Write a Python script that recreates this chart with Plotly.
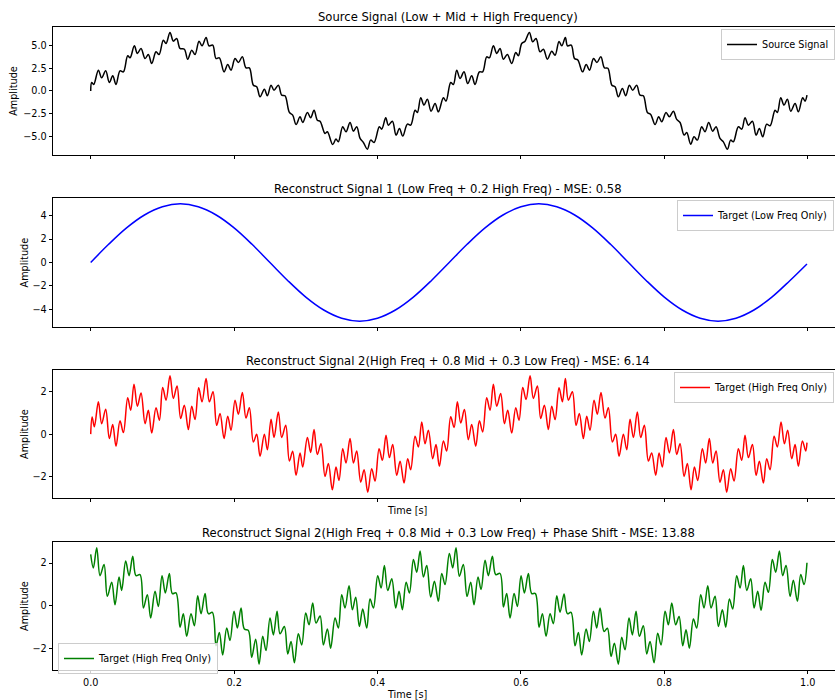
import plotly.graph_objects as go

# ---------------- data ----------------
src_t = [0, 0.0014, 0.0042, 0.0107, 0.0153, 0.0209, 0.026, 0.0307, 0.0353, 0.0409, 0.0456, 0.0516, 0.0549, 0.0609,
         0.0651, 0.0702, 0.0758, 0.0804, 0.0851, 0.0911, 0.0953, 0.1013, 0.1051, 0.1106, 0.1153, 0.1199, 0.1246,
         0.1306, 0.1353, 0.1409, 0.1455, 0.1511, 0.1553, 0.1609, 0.1650, 0.1702, 0.1748, 0.1794, 0.1860, 0.1911,
         0.1957, 0.2013, 0.2060, 0.2115, 0.2166, 0.2213, 0.2269, 0.2315, 0.2362, 0.2422, 0.2464, 0.2515, 0.2557,
         0.2617, 0.2664, 0.2710, 0.2771, 0.2817, 0.2864, 0.2920, 0.2957, 0.3022, 0.3068, 0.3115, 0.3161, 0.3199,
         0.3268, 0.3301, 0.3375, 0.3421, 0.3454, 0.3515, 0.3561, 0.3617, 0.3664, 0.3710, 0.3757, 0.3803, 0.3859,
         0.3905, 0.3952, 0.4026, 0.4059, 0.4115, 0.4152, 0.4208, 0.4259, 0.4306, 0.4352, 0.4417, 0.4463, 0.4524,
         0.4556, 0.4603, 0.4649, 0.4696, 0.4747, 0.4803, 0.4849, 0.4919, 0.4956, 0.5021, 0.5058, 0.5105, 0.5151,
         0.5207, 0.5258, 0.5314, 0.5360, 0.5421, 0.5467, 0.5523, 0.5560, 0.5616, 0.5663, 0.5709, 0.5756, 0.5811,
         0.5872, 0.5928, 0.5965, 0.6011, 0.6058, 0.6118, 0.6165, 0.6211, 0.6267, 0.6314, 0.6369, 0.6430, 0.6477,
         0.6532, 0.6570, 0.6620, 0.6650, 0.6702, 0.6748, 0.6794, 0.6860, 0.6911, 0.6957, 0.7013, 0.7060, 0.7115,
         0.7166, 0.7213, 0.7269, 0.7313, 0.7359, 0.7415, 0.7462, 0.7513, 0.7559, 0.7615, 0.7662, 0.7708, 0.7764,
         0.7810, 0.7871, 0.7922, 0.7964, 0.8024, 0.8071, 0.8127, 0.8173, 0.8220, 0.8276, 0.8313, 0.8368, 0.8415,
         0.8461, 0.8522, 0.8568, 0.8619, 0.8675, 0.8722, 0.8777, 0.8824, 0.8880, 0.8926, 0.8963, 0.9033, 0.9080,
         0.9126, 0.9173, 0.9229, 0.9280, 0.9326, 0.9373, 0.9428, 0.9475, 0.9545, 0.9577, 0.9624, 0.9670, 0.9717,
         0.9763, 0.9824, 0.9870, 0.9930, 0.9963, 0.9990]
src_v = [0, 0.93, 0.71, 2.29, 1.44, 2.21, 0.93, 1.66, 0.71, 2.21, 2.10, 3.87, 3.65, 4.97, 4.13, 4.68, 3.57, 4.01,
         3.02, 4.31, 4.01, 5.60, 5.23, 6.44, 5.49, 5.78, 4.68, 4.60, 3.50, 4.49, 4.01, 5.49, 4.97, 5.89, 4.97, 5.04,
         3.57, 3.65, 2.10, 2.91, 2.29, 3.57, 3.13, 3.76, 2.54, 2.54, 0.63, 0.45, -0.65, 0.19, -0.54, 0.63, 0.08,
         0.63, -0.47, -0.54, -2.38, -2.68, -3.71, -2.86, -3.49, -2.38, -2.97, -2.13, -3.23, -3.35, -4.70, -4.51,
         -5.91, -5.32, -5.62, -3.96, -4.51, -3.49, -4.44, -3.96, -5.25, -5.69, -6.43, -5.43, -5.69, -3.96, -4.22,
         -2.97, -3.78, -3.34, -4.88, -4.15, -4.99, -3.67, -3.78, -2.13, -2.38, -0.76, -1.57, -0.91, -2.24, -1.39,
         -2.31, -0.76, -1.13, 0.93, 0.71, 2.29, 1.37, 2.10, 0.82, 1.66, 0.71, 2.10, 2.10, 3.76, 3.65, 4.97, 4.13,
         4.68, 3.50, 4.01, 3.02, 4.24, 3.87, 5.23, 5.49, 6.44, 5.41, 5.78, 4.31, 4.60, 3.50, 4.38, 3.94, 5.45, 4.97,
         5.89, 4.97, 5.04, 3.57, 3.40, 2.10, 2.91, 2.29, 3.57, 3.13, 3.76, 2.54, 2.50, 0.63, 0.45, -0.65, 0.26,
         -0.54, 0.63, 0.08, 0.63, -0.47, -0.54, -2.38, -2.60, -3.71, -2.86, -3.41, -2.38, -2.86, -2.24, -3.15,
         -3.49, -4.88, -4.59, -5.88, -5.07, -5.43, -3.96, -4.51, -3.49, -4.44, -3.96, -5.25, -5.62, -6.43, -5.43,
         -5.62, -3.96, -4.22, -2.97, -3.78, -3.34, -4.88, -4.15, -5.07, -3.67, -3.85, -2.13, -2.38, -0.76, -1.57,
         -0.91, -2.24, -1.39, -2.31, -0.76, -1.13, -0.47]

low_t = [0, 0.025, 0.05, 0.075, 0.1, 0.125, 0.15, 0.175, 0.2, 0.225, 0.25, 0.275, 0.3, 0.325, 0.35, 0.375, 0.4,
         0.425, 0.45, 0.475, 0.5, 0.525, 0.55, 0.575, 0.6, 0.625, 0.65, 0.675, 0.7, 0.725, 0.75, 0.775, 0.8, 0.825,
         0.85, 0.875, 0.9, 0.925, 0.95, 0.975, 0.999]
low_v = [0, 1.55, 2.95, 4.05, 4.75, 5.0, 4.75, 4.05, 2.95, 1.55, 0, -1.55, -2.95, -4.05, -4.75, -5.0, -4.75, -4.05,
         -2.95, -1.55, 0, 1.55, 2.95, 4.05, 4.75, 5.0, 4.75, 4.05, 2.95, 1.55, 0, -1.55, -2.95, -4.05, -4.75, -5.0,
         -4.75, -4.05, -2.95, -1.55, -0.12]

high_t = [0, 0.0020, 0.0051, 0.0107, 0.0153, 0.0209, 0.026, 0.0307, 0.0353, 0.0409, 0.0456, 0.0516, 0.0558, 0.0604,
          0.0651, 0.0702, 0.0758, 0.0804, 0.0851, 0.0911, 0.0958, 0.1004, 0.1051, 0.1106, 0.1153, 0.1204, 0.1255,
          0.1306, 0.1362, 0.1409, 0.1455, 0.1506, 0.1553, 0.1609, 0.1655, 0.1706, 0.1757, 0.1804, 0.1860, 0.1911,
          0.1957, 0.2013, 0.2060, 0.2115, 0.2166, 0.2213, 0.2269, 0.2315, 0.2362, 0.2422, 0.2464, 0.2515, 0.2557,
          0.2617, 0.2664, 0.2720, 0.2771, 0.2817, 0.2864, 0.2920, 0.2957, 0.3022, 0.3068, 0.3115, 0.3161, 0.3212,
          0.3268, 0.3315, 0.3370, 0.3421, 0.3463, 0.3515, 0.3561, 0.3617, 0.3664, 0.3710, 0.3766, 0.3813, 0.3864,
          0.3919, 0.3966, 0.4022, 0.4068, 0.4119, 0.4166, 0.4212, 0.4268, 0.4315, 0.4370, 0.4421, 0.4463, 0.4524,
          0.4570, 0.4617, 0.4663, 0.4710, 0.4770, 0.4816, 0.4863, 0.4919, 0.4965, 0.5021, 0.5068, 0.5114, 0.5161,
          0.5212, 0.5267, 0.5314, 0.5370, 0.5421, 0.5467, 0.5523, 0.5570, 0.5616, 0.5663, 0.5718, 0.5770, 0.5816,
          0.5872, 0.5928, 0.5974, 0.6026, 0.6072, 0.6128, 0.6174, 0.6230, 0.6276, 0.6328, 0.6383, 0.6430, 0.6477,
          0.6532, 0.6579, 0.6620, 0.6662, 0.6718, 0.6769, 0.6815, 0.6871, 0.6918, 0.6964, 0.7020, 0.7066, 0.7117,
          0.7173, 0.7220, 0.7276, 0.7322, 0.7369, 0.7429, 0.7476, 0.7522, 0.7569, 0.7624, 0.7671, 0.7722, 0.7778,
          0.7824, 0.7880, 0.7927, 0.7973, 0.8024, 0.8071, 0.8127, 0.8173, 0.8220, 0.8276, 0.8322, 0.8373, 0.8420,
          0.8466, 0.8531, 0.8577, 0.8628, 0.8675, 0.8722, 0.8777, 0.8824, 0.8870, 0.8926, 0.8973, 0.9033, 0.9080,
          0.9126, 0.9173, 0.9229, 0.9280, 0.9326, 0.9382, 0.9428, 0.9475, 0.9531, 0.9577, 0.9628, 0.9675, 0.9721,
          0.9777, 0.9824, 0.9870, 0.9926, 0.9972, 0.9990]
high_v = [0, 0.80, 0.34, 1.51, 0.49, 1.17, -0.21, 0.45, -0.57, 0.62, 0.07, 1.70, 1.12, 2.34, 1.31, 1.93, 0.49, 1.12,
          0.05, 1.24, 0.65, 2.18, 1.59, 2.73, 1.67, 2.25, 0.73, 1.35, 0.21, 1.31, 0.68, 2.17, 1.51, 2.61, 1.51, 1.98,
          0.41, 0.96, -0.21, 0.84, 0.18, 1.59, 0.93, 1.95, 0.75, 1.24, -0.37, -0.01, -1.04, -0.01, -0.73, 0.70,
          -0.16, 1.04, -0.16, 0.41, -1.26, -0.80, -1.93, -0.88, -1.54, -0.16, -0.86, 0.21, -0.95, -0.45, -1.98,
          -1.38, -2.61, -1.54, -2.17, -0.68, -1.35, -0.21, -1.35, -0.79, -2.25, -1.67, -2.72, -1.62, -2.20, -0.68,
          -1.23, -0.05, -1.10, -0.49, -1.93, -1.27, -2.29, -1.15, -1.67, -0.10, -0.60, 0.57, -0.45, 0.18, -1.15,
          -0.49, -1.51, -0.32, -0.79, 0.81, 0.31, 1.51, 0.52, 1.15, -0.26, 0.45, -0.57, 0.62, 0.10, 1.70, 1.12, 2.34,
          1.31, 1.90, 0.49, 1.12, 0.05, 1.24, 0.65, 2.18, 1.62, 2.73, 1.67, 2.25, 0.73, 1.35, 0.21, 1.31, 0.68, 2.17,
          1.51, 2.61, 1.59, 1.98, 0.41, 0.96, -0.21, 0.84, 0.18, 1.59, 0.93, 1.95, 0.75, 1.24, -0.37, -0.01, -1.04,
          -0.01, -0.73, 0.70, -0.16, 1.04, -0.16, 0.41, -1.26, -0.88, -1.93, -0.88, -1.54, -0.16, -0.88, 0.21,
          -0.95, -0.45, -1.98, -1.38, -2.61, -1.54, -2.17, -0.68, -1.35, -0.21, -1.35, -0.79, -2.25, -1.67, -2.72,
          -1.62, -2.20, -0.68, -1.23, -0.05, -1.10, -0.49, -1.93, -1.27, -2.29, -1.15, -1.67, -0.10, -0.60, 0.57,
          -0.45, 0.18, -1.15, -0.49, -1.51, -0.32, -0.79, -0.40]

shift_t = [0, 0.0037, 0.0084, 0.0130, 0.0186, 0.0232, 0.0293, 0.0339, 0.0395, 0.0432, 0.0488, 0.0535, 0.0586, 0.0632,
           0.0688, 0.0735, 0.0790, 0.0837, 0.0897, 0.0944, 0.0995, 0.1041, 0.1097, 0.1139, 0.1190, 0.1246, 0.1292,
           0.1339, 0.1399, 0.1446, 0.1492, 0.1539, 0.1595, 0.1641, 0.1697, 0.1748, 0.1794, 0.1841, 0.1897, 0.1943,
           0.1999, 0.2046, 0.2097, 0.2143, 0.2199, 0.2245, 0.2301, 0.2348, 0.2399, 0.2445, 0.2501, 0.2548, 0.2599,
           0.2641, 0.2701, 0.2748, 0.2794, 0.2841, 0.2896, 0.2943, 0.2999, 0.3045, 0.3096, 0.3143, 0.3199, 0.3245,
           0.3301, 0.3347, 0.3408, 0.3454, 0.3501, 0.3547, 0.3603, 0.3650, 0.3696, 0.3747, 0.3794, 0.3850, 0.3896,
           0.3943, 0.4003, 0.4050, 0.4096, 0.4143, 0.4199, 0.4254, 0.4301, 0.4347, 0.4399, 0.4445, 0.4501, 0.4547,
           0.4594, 0.4640, 0.4687, 0.4742, 0.4794, 0.4849, 0.4896, 0.4942, 0.5002, 0.5049, 0.5095, 0.5142, 0.5197,
           0.5249, 0.5300, 0.5346, 0.5402, 0.5444, 0.5500, 0.5546, 0.5602, 0.5649, 0.5709, 0.5756, 0.5802, 0.5849,
           0.5905, 0.5951, 0.6002, 0.6049, 0.6104, 0.6151, 0.6202, 0.6253, 0.6300, 0.6351, 0.6407, 0.6453, 0.6500,
           0.6546, 0.6602, 0.6648, 0.6699, 0.6755, 0.6802, 0.6848, 0.6909, 0.6955, 0.7011, 0.7057, 0.7104, 0.7160,
           0.7206, 0.7257, 0.7304, 0.7359, 0.7406, 0.7452, 0.7508, 0.7555, 0.7606, 0.7652, 0.7708, 0.7755, 0.7801,
           0.7857, 0.7908, 0.7955, 0.8011, 0.8057, 0.8104, 0.8159, 0.8206, 0.8257, 0.8303, 0.8350, 0.8406, 0.8452,
           0.8508, 0.8554, 0.8606, 0.8652, 0.8708, 0.8754, 0.8810, 0.8857, 0.8908, 0.8954, 0.9010, 0.9057, 0.9103,
           0.9150, 0.9205, 0.9252, 0.9303, 0.9350, 0.9405, 0.9452, 0.9507, 0.9554, 0.9605, 0.9651, 0.9698, 0.9754,
           0.9800, 0.9856, 0.9903, 0.9949, 0.9990]
shift_v = [2.40, 1.77, 2.71, 1.41, 1.93, 0.44, 1.10, 0.05, 1.35, 0.72, 2.09, 1.41, 2.32, 1.41, 1.46, -0.10, 0.52,
           -0.57, 0.68, -0.03, 1.41, 0.60, 1.51, 0.57, 0.60, -1.00, -0.37, -1.43, -0.37, -0.93, 0.47, -0.37, 0.57,
           -0.37, -0.31, -1.87, -1.25, -2.30, -1.04, -1.62, -0.26, -1.04, -0.10, -1.09, -1.15, -2.41, -1.56, -2.73,
           -1.43, -2.09, -0.57, -1.36, -0.26, -1.31, -0.97, -2.25, -1.67, -2.66, -1.31, -1.83, -0.34, -0.89, 0.13,
           -0.81, -0.48, -1.83, -1.09, -1.98, -0.57, -1.04, 0.52, -0.10, 0.94, -0.18, 0.40, -0.97, -0.15, -1.04,
           0.32, -0.10, 1.41, 0.83, 1.88, 0.71, 1.26, -0.10, 0.68, -0.18, 1.10, 0.60, 2.16, 1.57, 2.56, 1.35, 1.88,
           0.41, 1.15, 0.21, 1.51, 0.99, 2.45, 1.77, 2.71, 1.38, 1.93, 0.44, 1.10, 0.05, 1.35, 0.76, 2.13, 1.41,
           2.32, 1.46, 1.51, -0.06, 0.57, -0.57, 0.57, -0.03, 1.41, 0.60, 1.51, 0.57, 0.57, -1.00, -0.37, -1.43,
           -0.37, -0.84, 0.47, -0.30, 0.55, -0.37, -0.31, -1.87, -1.25, -2.30, -1.09, -1.67, -0.26, -1.04, -0.10,
           -1.20, -1.05, -2.37, -1.75, -2.73, -1.47, -2.06, -0.57, -1.36, -0.26, -1.43, -0.93, -2.25, -1.67, -2.66,
           -1.28, -1.83, -0.26, -0.89, 0.13, -0.89, -0.50, -1.87, -1.12, -1.98, -0.62, -1.04, 0.52, -0.10, 0.94,
           -0.10, 0.44, -0.97, -0.18, -1.00, 0.32, -0.15, 1.41, 0.83, 1.88, 0.72, 1.26, -0.10, 0.68, -0.21, 1.10,
           0.63, 2.16, 1.57, 2.56, 1.41, 1.88, 0.44, 1.19, 0.21, 1.46, 0.99, 2.01]

titles = ["Source Signal (Low + Mid + High Frequency)",
          "Reconstruct Signal 1 (Low Freq + 0.2 High Freq) - MSE: 0.58",
          "Reconstruct Signal 2(High Freq + 0.8 Mid + 0.3 Low Freq) - MSE: 6.14",
          "Reconstruct Signal 2(High Freq + 0.8 Mid + 0.3 Low Freq) + Phase Shift - MSE: 13.88"]
legend_names = ["Source Signal", "Target (Low Freq Only)", "Target (High Freq Only)", "Target (High Freq Only)"]
x_ticks = [0.0, 0.2, 0.4, 0.6, 0.8, 1.0]
x_tick_labels = ["0.0", "0.2", "0.4", "0.6", "0.8", "1.0"]
y_ticks = [[-5.0, -2.5, 0.0, 2.5, 5.0], [-4, -2, 0, 2, 4], [-2, 0, 2], [-2, 0, 2]]
y_tick_labels = [["\u22125.0", "\u22122.5", "0.0", "2.5", "5.0"], ["\u22124", "\u22122", "0", "2", "4"],
                 ["\u22122", "0", "2"], ["\u22122", "0", "2"]]

# ---------------- layout ----------------
W, H = 835, 700
ML = 53.0
PW = W - ML
FONT = "DejaVu Sans"
series = [(src_t, src_v, "black"), (low_t, low_v, "blue"), (high_t, high_v, "red"), (shift_t, shift_v, "green")]
# pixel boxes (top, bottom) of the four axes
boxes = [(26.7, 155.0), (198.0, 327.0), (370.0, 498.0), (542.0, 670.0)]
x_px0, x_px1 = 90.7, 807.7  # pixel positions of t=0 and t=1
x_range = [(ML - x_px0) / (x_px1 - x_px0), (W - x_px0) / (x_px1 - x_px0)]


def xp(px):
    return (px - ML) / PW


def yp(py):
    return 1 - py / H


fig = go.Figure()
legend_keys = ["legend", "legend2", "legend3", "legend4"]
for i, (t, v, col) in enumerate(series):
    n = "" if i == 0 else str(i + 1)
    fig.add_trace(go.Scatter(x=t, y=v, mode="lines", name=legend_names[i],
                             line=dict(color=col, width=1.5, shape="spline", smoothing=1.0),
                             xaxis="x" + n, yaxis="y" + n, legend=legend_keys[i], showlegend=True))

layout = dict(width=W, height=H, autosize=False, margin=dict(l=ML, r=0, t=0, b=0, autoexpand=False),
              paper_bgcolor="white", plot_bgcolor="white", font=dict(family=FONT, size=9.7, color="black"),
              annotations=[])
for i in range(4):
    n = "" if i == 0 else str(i + 1)
    top, bot = boxes[i]
    lo, hi = min(series[i][1]), max(series[i][1])
    pad = 0.05 * (hi - lo)
    layout["xaxis" + n] = dict(domain=[0, 1], range=x_range, anchor="y" + n, showline=True, mirror=True,
                               linecolor="black", linewidth=0.8, ticks="outside", ticklen=3.5, tickwidth=0.8,
                               tickcolor="black", tickvals=x_ticks,
                               ticktext=x_tick_labels if i == 3 else [""] * len(x_ticks),
                               showgrid=False, zeroline=False, automargin=False,
                               tickfont=dict(family=FONT, size=9.7, color="black"))
    layout["yaxis" + n] = dict(domain=[yp(bot), yp(top)], range=[lo - pad, hi + pad], anchor="x" + n,
                               showline=True, mirror=False, linecolor="black", linewidth=0.8, ticks="outside",
                               ticklen=3.5, tickwidth=0.8, tickcolor="black", tickvals=y_ticks[i],
                               ticktext=y_tick_labels[i], showgrid=False, zeroline=False, automargin=False,
                               tickfont=dict(family=FONT, size=9.7, color="black"))
    layout["annotations"].append(dict(text=titles[i], x=xp(448), y=yp(top - 9.5), xref="paper", yref="paper",
                                      xanchor="center", yanchor="middle", showarrow=False,
                                      font=dict(family=FONT, size=11.6, color="black")))
    layout["annotations"].append(dict(text="Amplitude", x=xp(14 if i == 0 else 24), y=yp((top + bot) / 2),
                                      xref="paper", yref="paper", xanchor="center", yanchor="middle",
                                      textangle=-90, showarrow=False, font=dict(family=FONT, size=9.7)))

layout["annotations"].append(dict(text="Time [s]", x=xp(407), y=yp(510), xref="paper", yref="paper",
                                  xanchor="center", yanchor="middle", showarrow=False, font=dict(family=FONT, size=9.7)))
layout["annotations"].append(dict(text="Time [s]", x=xp(407), y=yp(694), xref="paper", yref="paper",
                                  xanchor="center", yanchor="middle", showarrow=False, font=dict(family=FONT, size=9.7)))

# legend boxes: (left px, top px)
legend_pos = [(721, 29), (677, 200), (674, 372), (58, 643)]
for i, key in enumerate(legend_keys):
    lx, ly = legend_pos[i]
    layout[key] = dict(x=xp(lx), y=yp(ly), xanchor="left", yanchor="top", bgcolor="rgba(255,255,255,0.8)",
                       bordercolor="#cccccc", borderwidth=1, font=dict(family=FONT, size=9.7, color="black"),
                       itemwidth=30, tracegroupgap=0)

fig.update_layout(**layout)
fig.write_html("out.html", config={"displayModeBar": False},
               post_script="document.body.style.margin='0';")
